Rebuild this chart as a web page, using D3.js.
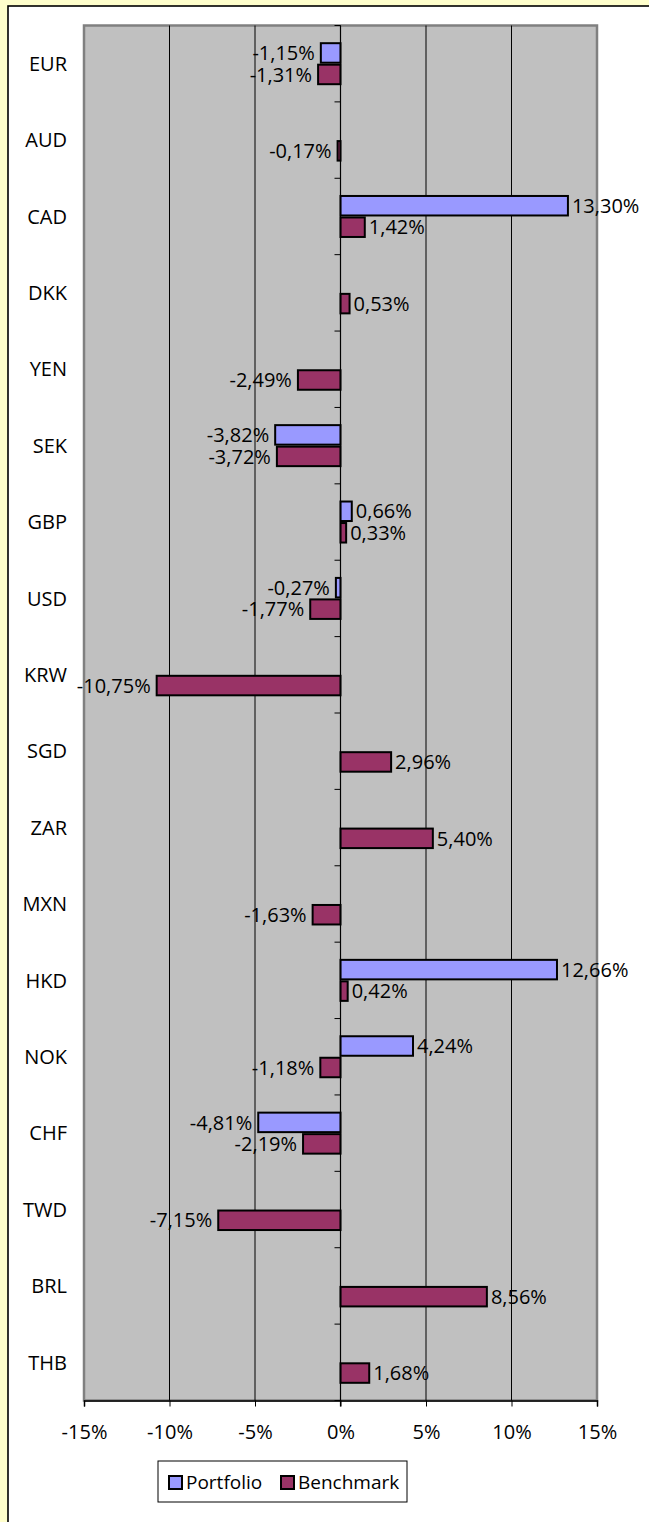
<!DOCTYPE html>
<html>
<head>
<meta charset="utf-8">
<script src="https://cdn.jsdelivr.net/npm/d3@7"></script>
<style>
  html, body { margin: 0; padding: 0; background: #FFFFCC; }
  svg { display: block; font-family: "Open Sans", sans-serif; }
</style>
</head>
<body>
<div id="chart"></div>
<script>
// Currency categories, top to bottom
const categories = ["EUR", "AUD", "CAD", "DKK", "YEN", "SEK", "GBP", "USD", "KRW",
    "SGD", "ZAR", "MXN", "HKD", "NOK", "CHF", "TWD", "BRL", "THB"];

// Values in percent (null = no bar)
const portfolio = [-1.15, null, 13.30, null, null, -3.82, 0.66, -0.27, null,
    null, null, null, 12.66, 4.24, -4.81, null, null, null];
const benchmark = [-1.31, -0.17, 1.42, 0.53, -2.49, -3.72, 0.33, -1.77, -10.75,
    2.96, 5.40, -1.63, 0.42, -1.18, -2.19, -7.15, 8.56, 1.68];

const seriesNames = ["Portfolio", "Benchmark"];
const xTicks = [-15, -10, -5, 0, 5, 10, 15];

const width = 649, height = 1522;
const colors = { Portfolio: "#9999FF", Benchmark: "#993366" };
const fontSize = 20;

const svg = d3.select("#chart").append("svg")
    .attr("width", width)
    .attr("height", height);

// chart area (white panel with black frame)
svg.append("rect")
    .attr("x", 8).attr("y", 6)
    .attr("width", 800).attr("height", 1700)
    .attr("fill", "#fff")
    .attr("stroke", "#000")
    .attr("stroke-width", 1.6);

const plot = { left: 84, right: 597, top: 25.5, bottom: 1400.5 };

const x = d3.scaleLinear().domain([-15, 15]).range([plot.left, plot.right]);

const y0 = d3.scaleBand()
    .domain(categories)
    .range([plot.top, plot.bottom])
    .paddingInner(0.437)
    .paddingOuter(0.2185);

const y1 = d3.scaleBand()
    .domain(seriesNames)
    .range([0, y0.bandwidth()]);

// plot background
svg.append("rect")
    .attr("x", plot.left).attr("y", plot.top)
    .attr("width", plot.right - plot.left)
    .attr("height", plot.bottom - plot.top)
    .attr("fill", "#C0C0C0")
    .attr("stroke", "#808080")
    .attr("stroke-width", 2.5);

// vertical gridlines
svg.append("g")
    .selectAll("line")
    .data(xTicks.filter(d => d !== -15 && d !== 15))
    .join("line")
    .attr("x1", d => x(d)).attr("x2", d => x(d))
    .attr("y1", plot.top).attr("y2", plot.bottom)
    .attr("stroke", "#000")
    .attr("stroke-width", 1);

// category ticks on the zero line (band boundaries)
const step = y0.step();
svg.append("g")
    .selectAll("line")
    .data(d3.range(categories.length + 1))
    .join("line")
    .attr("x1", x(0) - 6).attr("x2", x(0))
    .attr("y1", i => plot.top + i * step)
    .attr("y2", i => plot.top + i * step)
    .attr("stroke", "#000")
    .attr("stroke-width", 1);

// bottom axis
const xAxis = d3.axisBottom(x)
    .tickValues(xTicks)
    .tickSize(6)
    .tickPadding(18)
    .tickFormat(d => d + "%");

const axisG = svg.append("g")
    .attr("transform", `translate(0,${plot.bottom})`)
    .call(xAxis);
axisG.select(".domain").attr("stroke", "#000").attr("stroke-width", 1.5);
axisG.selectAll(".tick line").attr("stroke", "#000");
axisG.selectAll(".tick text")
    .attr("font-family", "Open Sans")
    .attr("font-size", fontSize)
    .attr("fill", "#000");

// flatten rows for bars
const rows = [];
categories.forEach((c, i) => {
    if (portfolio[i] !== null) rows.push({ cat: c, series: "Portfolio", value: portfolio[i] });
    if (benchmark[i] !== null) rows.push({ cat: c, series: "Benchmark", value: benchmark[i] });
});

const barG = svg.append("g");
barG.selectAll("rect")
    .data(rows)
    .join("rect")
    .attr("x", d => x(Math.min(0, d.value)))
    .attr("y", d => y0(d.cat) + y1(d.series) + 1)
    .attr("width", d => Math.abs(x(d.value) - x(0)))
    .attr("height", y1.bandwidth() - 2)
    .attr("fill", d => colors[d.series])
    .attr("stroke", "#000")
    .attr("stroke-width", 2);

// zero line on top of bars
svg.append("line")
    .attr("x1", x(0)).attr("x2", x(0))
    .attr("y1", plot.top).attr("y2", plot.bottom + 6)
    .attr("stroke", "#000")
    .attr("stroke-width", 1.2);

// data labels
const fmt = v => v.toFixed(2).replace(".", ",") + "%";
svg.append("g")
    .selectAll("text")
    .data(rows)
    .join("text")
    .attr("x", d => d.value >= 0 ? x(d.value) + 4 : x(d.value) - 6)
    .attr("y", d => y0(d.cat) + y1(d.series) + y1.bandwidth() / 2)
    .attr("dy", "0.36em")
    .attr("text-anchor", d => d.value >= 0 ? "start" : "end")
    .attr("font-size", fontSize)
    .attr("fill", "#000")
    .text(d => fmt(d.value));

// category labels
svg.append("g")
    .selectAll("text")
    .data(categories)
    .join("text")
    .attr("x", 67)
    .attr("y", d => y0(d) + y0.bandwidth() / 2)
    .attr("dy", "0.36em")
    .attr("text-anchor", "end")
    .attr("font-size", fontSize)
    .attr("fill", "#000")
    .text(d => d);

// legend
const legend = svg.append("g").attr("transform", "translate(158,1461)");
legend.append("rect")
    .attr("width", 249).attr("height", 41)
    .attr("fill", "#fff")
    .attr("stroke", "#000")
    .attr("stroke-width", 1);

const legendX = [11, 123];
seriesNames.forEach((s, i) => {
    legend.append("rect")
        .attr("x", legendX[i]).attr("y", 15)
        .attr("width", 13).attr("height", 13)
        .attr("fill", colors[s])
        .attr("stroke", "#000")
        .attr("stroke-width", 2);
    legend.append("text")
        .attr("x", legendX[i] + 17)
        .attr("y", 28)
        .attr("font-size", 19)
        .attr("fill", "#000")
        .text(s);
});
</script>
</body>
</html>
